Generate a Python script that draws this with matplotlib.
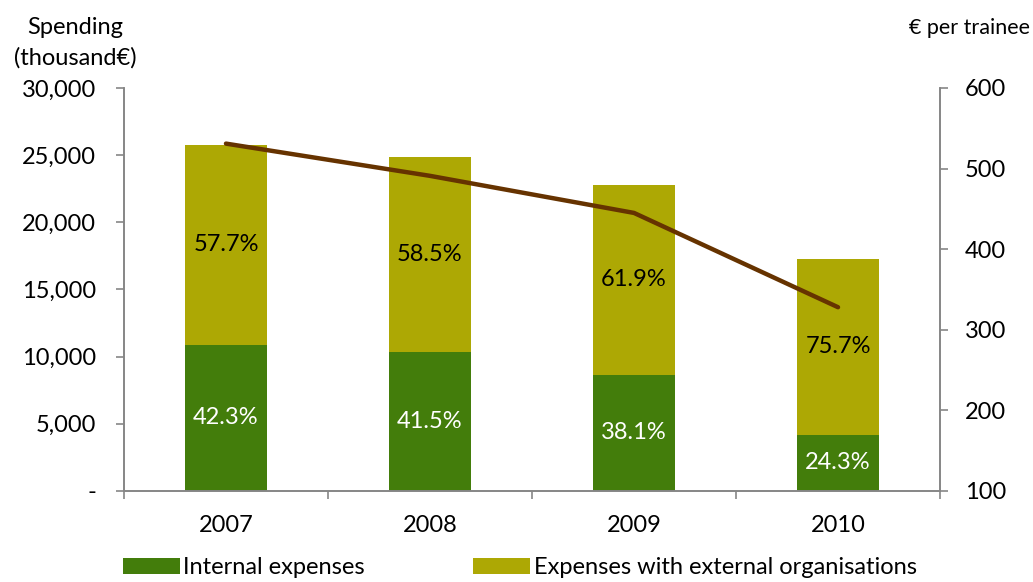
import numpy as np
import matplotlib.pyplot as plt
from matplotlib.ticker import FuncFormatter, FixedLocator

plt.rcParams['font.family'] = ['Lato', 'DejaVu Sans']

years = ['2007', '2008', '2009', '2010']
total = [25750, 24850, 22750, 17250]          # thousand €
share_int = [42.3, 41.5, 38.1, 24.3]          # %
share_ext = [57.7, 58.5, 61.9, 75.7]          # %
per_trainee = [531, 491, 445, 328]            # € per trainee

internal = [t * s / 100 for t, s in zip(total, share_int)]
external = [t - i for t, i in zip(total, internal)]

c_int = '#437D0B'
c_ext = '#ADA804'
c_line = '#663300'
c_axis = '#868686'
fs = 17

fig = plt.figure(figsize=(10.33, 5.82), dpi=100)
ax = fig.add_axes([0.120, 0.1564, 0.790, 0.6924])
x = np.arange(len(years))

b1 = ax.bar(x, internal, width=0.4, color=c_int, label='Internal expenses')
b2 = ax.bar(x, external, width=0.4, bottom=internal, color=c_ext,
            label='Expenses with external organisations')

for i in range(len(years)):
    ax.text(x[i], internal[i] / 2, '%.1f%%' % share_int[i], ha='center', va='center',
            color='white', fontsize=fs)
    ax.text(x[i], internal[i] + external[i] / 2, '%.1f%%' % share_ext[i], ha='center',
            va='center', color='black', fontsize=fs)

ax.set_xlim(-0.5, 3.5)
ax.set_ylim(0, 30000)
ax.set_yticks(np.arange(0, 30001, 5000))
ax.yaxis.set_major_formatter(FuncFormatter(lambda v, p: '-' if v == 0 else '{:,.0f}'.format(v)))
ax.set_xticks(x)
ax.set_xticklabels(years)
ax.xaxis.set_minor_locator(FixedLocator([-0.5, 0.5, 1.5, 2.5, 3.5]))
ax.tick_params(axis='x', which='major', length=0, pad=17, labelsize=fs)
ax.tick_params(axis='x', which='minor', length=6, color=c_axis, width=1.2)
ax.tick_params(axis='y', length=6, color=c_axis, width=1.2, labelsize=fs, pad=14)

ax2 = ax.twinx()
ax2.plot(x, per_trainee, color=c_line, lw=3.2, solid_capstyle='round')
ax2.set_ylim(100, 600)
ax2.set_yticks(np.arange(100, 601, 100))
ax2.tick_params(axis='y', length=6, color=c_axis, width=1.2, labelsize=fs, pad=12)

for a in (ax, ax2):
    a.spines['top'].set_visible(False)
    for s in ('left', 'right', 'bottom'):
        a.spines[s].set_color(c_axis)
        a.spines[s].set_linewidth(1.2)

fig.text(0.073, 0.927, 'Spending\n(thousand€)', ha='center', va='center', fontsize=fs,
         linespacing=1.5)
fig.text(0.997, 0.952, '€ per trainee', ha='right', va='center', fontsize=15.5)

fig.legend(handles=[b1, b2], loc='center left', bbox_to_anchor=(0.119, 0.025), ncol=2,
           frameon=False, fontsize=fs, handlelength=2.4, handleheight=0.68,
           handletextpad=0.15, columnspacing=4.6, borderpad=0, borderaxespad=0)

fig.savefig('out.png', dpi=100)
